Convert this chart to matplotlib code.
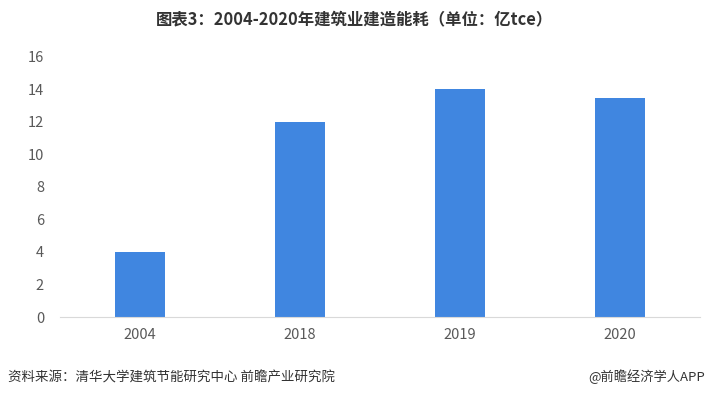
import matplotlib
matplotlib.use("Agg")
import matplotlib.pyplot as plt

plt.rcParams['font.family'] = ['Noto Sans CJK SC', 'DejaVu Sans']

years = ["2004", "2018", "2019", "2020"]
values = [4, 12, 14, 13.5]
yticks = [0, 2, 4, 6, 8, 10, 12, 14, 16]

title = "图表3：2004-2020年建筑业建造能耗（单位：亿tce）"
source = "资料来源：清华大学建筑节能研究中心 前瞻产业研究院"
credit = "@前瞻经济学人APP"

fig = plt.figure(figsize=(7.09, 3.97), dpi=100)
ax = fig.add_axes([0.0846, 0.2015, 0.9027, 0.655])

x = range(len(years))
ax.bar(x, values, width=0.31, color="#4086E0")
ax.set_xlim(-0.5, len(years) - 0.5)
ax.set_ylim(0, 16)
ax.set_yticks(yticks)
ax.set_xticks(list(x))
ax.set_xticklabels(years)
for s in ["top", "right", "left"]:
    ax.spines[s].set_visible(False)
ax.spines["bottom"].set_color("#D9D9D9")
ax.tick_params(axis="both", length=0, colors="#595959", labelsize=10.5)
ax.tick_params(axis="x", pad=8)
ax.tick_params(axis="y", pad=11.5)

fig.text(0.5, 0.952, title, ha="center", va="center", fontsize=11.8, fontweight="bold", color="#333333")
fig.text(0.011, 0.05, source, ha="left", va="center", fontsize=9.7, color="#333333")
fig.text(0.995, 0.05, credit, ha="right", va="center", fontsize=9.5, color="#333333")

fig.savefig("out.png", dpi=100)
